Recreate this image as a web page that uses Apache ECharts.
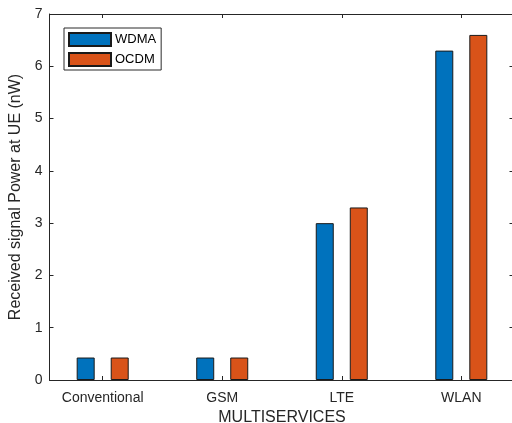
<!DOCTYPE html>
<html><head><meta charset="utf-8">
<script src="https://cdn.jsdelivr.net/npm/echarts@6/dist/echarts.min.js"></script>
<style>html,body{margin:0;padding:0;background:#fff}#c{width:512px;height:423px}</style>
</head><body><div id="c"></div>
<script>
const categories = ['Conventional', 'GSM', 'LTE', 'WLAN'];
const wdma = [0.43, 0.43, 3.0, 6.3];
const ocdm = [0.43, 0.43, 3.3, 6.6];
const yTicks = [0, 1, 2, 3, 4, 5, 6, 7];
const catPos = categories.map((c, i) => i + 1);

const chart = echarts.init(document.getElementById('c'), null, {renderer: 'canvas'});
const axisColor = '#262626';
const font = 'Liberation Sans, Arial, sans-serif';
chart.setOption({
  animation: false,
  backgroundColor: '#fff',
  textStyle: {fontFamily: font},
  grid: {left: 49.5, top: 14, width: 465, height: 366, containLabel: false, outerBoundsMode: 'none'},
  legend: {
    left: 64, top: 28, orient: 'vertical',
    itemWidth: 42, itemHeight: 13, itemGap: 5,
    padding: [4, 5, 3, 4],
    borderColor: '#2b2b2b', borderWidth: 1, backgroundColor: '#fff',
    textStyle: {fontSize: 13, color: '#000', fontFamily: font, padding: [0, 0, 0, -1]},
    icon: 'rect',
    data: ['WDMA', 'OCDM']
  },
  xAxis: [{
    type: 'value', min: 0.555, max: 4.445,
    name: 'MULTISERVICES', nameLocation: 'middle', nameGap: 28,
    nameTextStyle: {fontSize: 16, color: axisColor, fontFamily: font, verticalAlign: 'top'},
    axisLine: {show: true, lineStyle: {color: axisColor, width: 1}},
    axisTick: {show: true, inside: true, length: 4, customValues: catPos, lineStyle: {color: axisColor}},
    axisLabel: {show: true, customValues: catPos, margin: 11, fontSize: 14, color: axisColor, fontFamily: font,
      formatter: v => categories[Math.round(v) - 1] || ''},
    splitLine: {show: false}
  }, {
    type: 'value', min: 0.555, max: 4.445, position: 'top',
    axisLine: {show: true, onZero: false, lineStyle: {color: axisColor, width: 1}},
    axisTick: {show: true, inside: true, length: 4, customValues: catPos, lineStyle: {color: axisColor}},
    axisLabel: {show: false},
    splitLine: {show: false}
  }],
  yAxis: [{
    type: 'value', min: 0, max: 7, interval: 1,
    name: 'Received signal Power at UE (nW)', nameLocation: 'middle', nameGap: 24,
    nameTextStyle: {fontSize: 16, color: axisColor, fontFamily: font},
    axisLine: {show: true, lineStyle: {color: axisColor, width: 1}},
    axisTick: {show: true, inside: true, length: 4, lineStyle: {color: axisColor}},
    axisLabel: {margin: 7, fontSize: 14, color: axisColor, fontFamily: font,
      formatter: v => yTicks.includes(v) ? String(v) : ''},
    splitLine: {show: false}
  }, {
    type: 'value', min: 0, max: 7, interval: 1, position: 'right',
    axisLine: {show: false},
    axisTick: {show: true, inside: true, length: 5, lineStyle: {color: axisColor}},
    axisLabel: {show: false},
    splitLine: {show: false}
  }],
  series: [{
    name: 'WDMA', type: 'bar', xAxisIndex: 0, yAxisIndex: 0,
    barWidth: 18, barGap: '89%',
    itemStyle: {color: '#0072BD', borderColor: '#1a1a1a', borderWidth: 1},
    data: wdma.map((v, i) => [catPos[i], v])
  }, {
    name: 'OCDM', type: 'bar', xAxisIndex: 0, yAxisIndex: 0,
    barWidth: 18, barGap: '89%',
    itemStyle: {color: '#D95319', borderColor: '#1a1a1a', borderWidth: 1},
    data: ocdm.map((v, i) => [catPos[i], v])
  }]
});
</script></body></html>
